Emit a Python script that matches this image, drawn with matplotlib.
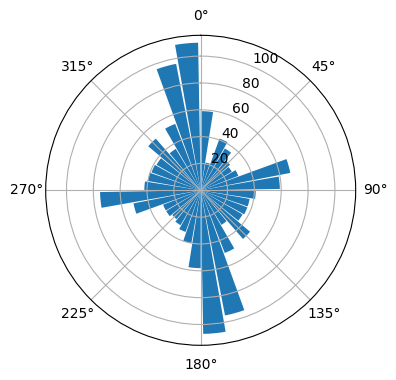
import numpy as np
import matplotlib
matplotlib.use('Agg')
import matplotlib.pyplot as plt

# 36 direction bins, 10 degrees each, clockwise from north
bin_start_deg = np.arange(0, 360, 10)
counts = [59, 21, 41, 36, 29, 27, 30, 68, 59,
          41, 37, 37, 36, 48, 30, 50, 95, 107,
          58, 40, 33, 30, 28, 30, 30, 51, 75,
          42, 40, 39, 38, 51, 36, 53, 96, 110]


def main():
    fig = plt.figure(figsize=(3.96, 3.8), dpi=100)
    ax = fig.add_axes([0.1154, 0.0913, 0.7828, 0.8158], projection='polar')
    ax.set_theta_zero_location('N')
    ax.set_theta_direction(-1)

    theta = np.deg2rad(bin_start_deg)
    width = 0.9 * 2 * np.pi / len(counts)
    ax.bar(theta, counts, width=width, align='edge', color='#1f77b4')

    ax.set_rticks([20, 40, 60, 80, 100])
    ax.grid(True)

    fig.savefig('out.png', dpi=100)


if __name__ == "__main__":
    main()
